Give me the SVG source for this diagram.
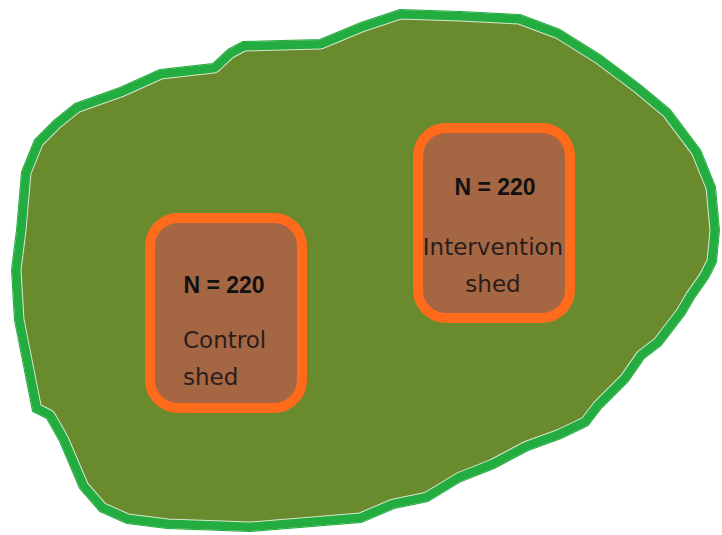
<svg xmlns="http://www.w3.org/2000/svg" width="722" height="535" viewBox="0 0 722 535">
<style>
.shed{fill:#A56644;stroke:#FF6B1A;stroke-width:10}
.n{font-family:"Liberation Sans",Arial,sans-serif;font-weight:bold;font-size:23px;fill:#111}
.lbl{font-family:"DejaVu Sans",sans-serif;font-size:23px;fill:#2a1d1b}
</style>
<defs>
<path id="field" d="M12,270 L17,230 L22,172 L35,140 L55,120 L75,104 L120,88 L160,70 L213,64 L228,50 L243,42 L320,40 L361,23 L400,10 L460,12 L520,15 L560,30 L600,55 L640,85 L670,110 L700,150 L715,187 L719,230 L716,262 L708,278 L694,298 L684,315 L661,345 L644,358 L628,381 L601,408 L588,425 L561,438 L528,450 L494,468 L461,481 L428,501 L394,508 L361,522 L250,531 L167,528 L127,523 L100,511 L80,488 L60,441 L47,418 L33,411 L15,320 Z"/>
<clipPath id="fieldClip"><use href="#field"/></clipPath>
</defs>
<rect width="722" height="535" fill="#ffffff"/>
<g id="field-area">
<use href="#field" fill="#6A8A2E" stroke="#23AC3F" stroke-width="2" stroke-linejoin="round"/>
<g clip-path="url(#fieldClip)">
<use href="#field" fill="none" stroke="#D6E8CF" stroke-width="19" stroke-linejoin="round"/>
<use href="#field" fill="none" stroke="#23AC3F" stroke-width="17" stroke-linejoin="round"/>
</g>
</g>
<g id="connectors"></g>
<g id="control-shed">
<rect class="shed" x="150" y="218" width="152" height="190" rx="28"/>
<text class="n" x="224" y="293" text-anchor="middle">N = 220</text>
<text class="lbl" x="183" y="348">Control</text>
<text class="lbl" x="183" y="385">shed</text>
</g>
<g id="intervention-shed">
<rect class="shed" x="418" y="128" width="152" height="190" rx="28"/>
<text class="n" x="495" y="195" text-anchor="middle">N = 220</text>
<text class="lbl" x="493" y="255" text-anchor="middle">Intervention</text>
<text class="lbl" x="493" y="292" text-anchor="middle">shed</text>
</g>
</svg>
